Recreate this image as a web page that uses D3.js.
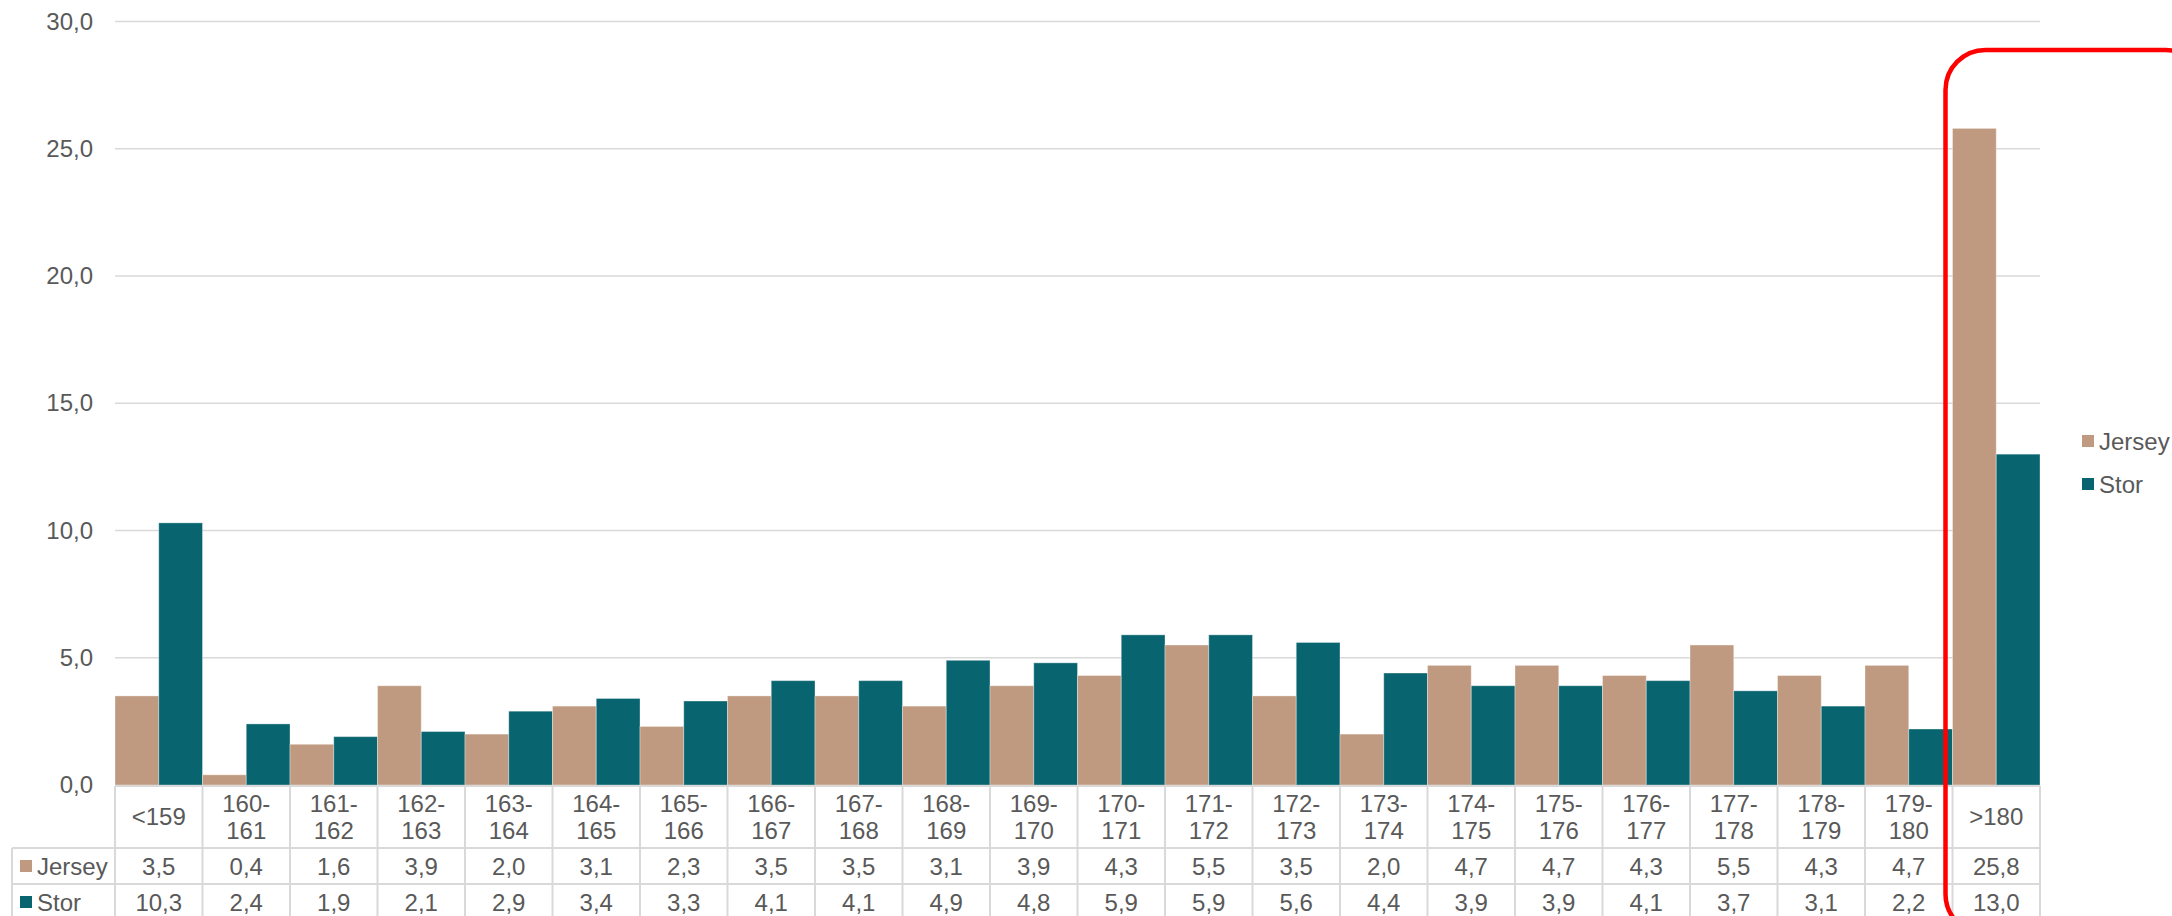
<!DOCTYPE html>
<html>
<head>
<meta charset="utf-8">
<script src="https://cdn.jsdelivr.net/npm/d3@7"></script>
<style>
  html, body { margin: 0; padding: 0; background: #fff; }
  svg { display: block; font-family: "Liberation Sans", Arial, sans-serif; }
</style>
</head>
<body>
<svg id="chart" width="2172" height="916"></svg>
<script>
// Height classes (cm)
const categories = ["<159", "160-161", "161-162", "162-163", "163-164", "164-165", "165-166",
  "166-167", "167-168", "168-169", "169-170", "170-171", "171-172", "172-173", "173-174",
  "174-175", "175-176", "176-177", "177-178", "178-179", "179-180", ">180"];

// Share per class (%)
const jersey = [3.5, 0.4, 1.6, 3.9, 2.0, 3.1, 2.3, 3.5, 3.5, 3.1, 3.9, 4.3, 5.5, 3.5, 2.0, 4.7, 4.7, 4.3, 5.5, 4.3, 4.7, 25.8];
const stor   = [10.3, 2.4, 1.9, 2.1, 2.9, 3.4, 3.3, 4.1, 4.1, 4.9, 4.8, 5.9, 5.9, 5.6, 4.4, 3.9, 3.9, 4.1, 3.7, 3.1, 2.2, 13.0];

const seriesNames = ["Jersey", "Stor"];
const yTicks = [0, 5, 10, 15, 20, 25, 30];

const colors = { Jersey: "#BF9A80", Stor: "#08646F" };
const textColor = "#595959";
const gridColor = "#D9D9D9";
const fontSize = "24px";

const locale = d3.formatLocale({ decimal: ",", thousands: " ", grouping: [3], currency: ["", " kr"] });
const fmt = locale.format(".1f");

const svg = d3.select("#chart");

const plot = { left: 115, right: 2040, top: 21.5, bottom: 785 };
const table = { left: 12, headerBottom: 848, row1Bottom: 884, bottom: 930 };

const x = d3.scaleBand().domain(categories).range([plot.left, plot.right]).padding(0);
const xs = d3.scaleBand().domain(seriesNames).range([0, x.bandwidth()]).padding(0);
const y = d3.scaleLinear().domain([0, 30]).range([plot.bottom, plot.top]);

const rows = categories.map((c, i) => ({ cat: c, Jersey: jersey[i], Stor: stor[i] }));

// Gridlines
svg.append("g")
  .selectAll("line")
  .data(yTicks.filter(t => t > 0))
  .join("line")
  .attr("x1", plot.left).attr("x2", plot.right)
  .attr("y1", d => y(d)).attr("y2", d => y(d))
  .attr("stroke", gridColor).attr("stroke-width", 1.5);

// Y axis labels
const yAxis = d3.axisLeft(y).tickValues(yTicks).tickFormat(fmt).tickSize(0).tickPadding(22);
const yg = svg.append("g").attr("transform", `translate(${plot.left},0)`).call(yAxis);
yg.select(".domain").remove();
yg.selectAll("text")
  .attr("fill", textColor)
  .style("font-size", fontSize)
  .style("font-family", "Liberation Sans, Arial, sans-serif");

// Bars
const groups = svg.append("g")
  .selectAll("g")
  .data(rows)
  .join("g")
  .attr("transform", d => `translate(${x(d.cat)},0)`);

groups.selectAll("rect")
  .data(d => seriesNames.map(s => ({ s, v: d[s] })))
  .join("rect")
  .attr("x", d => xs(d.s))
  .attr("width", xs.bandwidth())
  .attr("y", d => y(d.v))
  .attr("height", d => y(0) - y(d.v))
  .attr("fill", d => colors[d.s])
  .attr("stroke", "#ffffff")
  .attr("stroke-opacity", 0.35)
  .attr("stroke-width", 1);

// Data table grid
const tg = svg.append("g").attr("stroke", gridColor).attr("stroke-width", 2);
tg.append("line")
  .attr("x1", plot.left).attr("x2", plot.right)
  .attr("y1", plot.bottom + 1).attr("y2", plot.bottom + 1);
[table.headerBottom, table.row1Bottom].forEach(yy => {
  tg.append("line")
    .attr("x1", table.left).attr("x2", plot.right)
    .attr("y1", yy).attr("y2", yy);
});
tg.append("line")
  .attr("x1", table.left).attr("x2", table.left)
  .attr("y1", table.headerBottom).attr("y2", table.bottom);
const boundaries = categories.map(c => x(c)).concat([plot.right]);
tg.selectAll("line.v")
  .data(boundaries)
  .join("line")
  .attr("class", "v")
  .attr("x1", d => d).attr("x2", d => d)
  .attr("y1", plot.bottom + 1).attr("y2", table.bottom);

// Category header labels (split on the hyphen into two lines)
const headerMid = (plot.bottom + table.headerBottom) / 2;
const hdr = svg.append("g")
  .attr("fill", textColor)
  .style("font-size", fontSize)
  .attr("text-anchor", "middle");
categories.forEach(c => {
  const cx = x(c) + x.bandwidth() / 2;
  const parts = c.includes("-") ? [c.slice(0, c.indexOf("-") + 1), c.slice(c.indexOf("-") + 1)] : [c];
  const lineH = 27;
  const t = hdr.append("text").attr("x", cx);
  parts.forEach((p, k) => {
    const base = headerMid + 8.5 - (parts.length - 1) * lineH / 2 + k * lineH;
    t.append("tspan").attr("x", cx).attr("y", base).text(p);
  });
});

// Data rows
const rowDefs = [
  { name: "Jersey", values: jersey, top: table.headerBottom, bottom: table.row1Bottom },
  { name: "Stor", values: stor, top: table.row1Bottom, bottom: table.row1Bottom + 36 }
];
rowDefs.forEach(r => {
  const mid = (r.top + r.bottom) / 2;
  svg.append("rect")
    .attr("x", 20).attr("y", mid - 6).attr("width", 12).attr("height", 12)
    .attr("fill", colors[r.name]);
  svg.append("text")
    .attr("x", 37).attr("y", mid + 8.5)
    .attr("fill", textColor).style("font-size", fontSize)
    .text(r.name);
  svg.append("g")
    .selectAll("text")
    .data(r.values)
    .join("text")
    .attr("x", (d, i) => x(categories[i]) + x.bandwidth() / 2)
    .attr("y", mid + 8.5)
    .attr("text-anchor", "middle")
    .attr("fill", textColor)
    .style("font-size", fontSize)
    .text(d => fmt(d));
});

// Legend
const legend = svg.append("g");
seriesNames.forEach((s, i) => {
  const ly = 441 + i * 43;
  legend.append("rect")
    .attr("x", 2082).attr("y", ly - 6).attr("width", 12).attr("height", 12)
    .attr("fill", colors[s]);
  legend.append("text")
    .attr("x", 2099).attr("y", ly + 8.5)
    .attr("fill", textColor).style("font-size", fontSize)
    .text(s);
});

// Highlight around the tallest class
const last = categories[categories.length - 1];
svg.append("rect")
  .attr("x", x(last) - 7)
  .attr("y", 50)
  .attr("width", 260)
  .attr("height", 884)
  .attr("rx", 40).attr("ry", 40)
  .attr("fill", "none")
  .attr("stroke", "#FF0000")
  .attr("stroke-width", 4.5);
</script>
</body>
</html>
